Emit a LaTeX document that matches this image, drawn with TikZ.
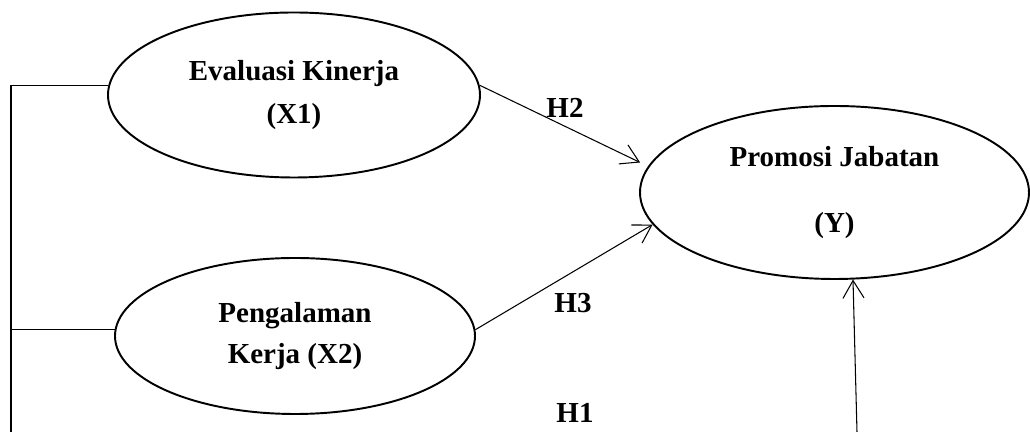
\documentclass[tikz,border=0pt]{standalone}
\usepackage{fontspec}
\setmainfont{Liberation Serif}
\usetikzlibrary{arrows,arrows.meta,shapes.geometric}

\begin{document}
\begin{tikzpicture}[
	var/.style={draw,ellipse,line width=1.1pt,align=center,font=\bfseries\fontsize{16.5}{24}\selectfont},
	hyp/.style={font=\bfseries\fontsize{16.5}{20}\selectfont},
	link/.style={line width=0.6pt},
	>={Straight Barb[length=10pt,width=12pt]}]
	\useasboundingbox (0,0) rectangle (20.6,8.64);
	\node[var,minimum width=7.44cm,minimum height=3.3cm] (X1) at (5.88,6.74) {Evaluasi Kinerja\\(X1)};
	\node[var,minimum width=7.2cm,minimum height=3.12cm,font=\bfseries\fontsize{16.5}{23}\selectfont] (X2) at (5.9,1.92) {Pengalaman\\Kerja (X2)};
	\node[var,minimum width=7.78cm,minimum height=3.46cm] (Y) at (16.69,4.79) {Promosi Jabatan\\[14pt](Y)};
	\coordinate (l1) at (0.22,0);
	\coordinate (l2) at (17.14,0);
	\draw[link] (X1.177) -| (l1);
	\draw[link] (X2.178) -- (X2.178 -| l1);
	\draw[link,->,shorten >=5pt] (X1.3) -- (Y.172);
	\draw[link,->] (X2.2) -- (Y.190);
	\draw[link,->] (l2) -- (Y.-78);
	\node[hyp] (h2) at (11.3,6.48) {H2};
	\node[hyp] (h3) at (11.46,2.58) {H3};
	\node[hyp] (h1) at (11.5,0.38) {H1};
\end{tikzpicture}
\end{document}
